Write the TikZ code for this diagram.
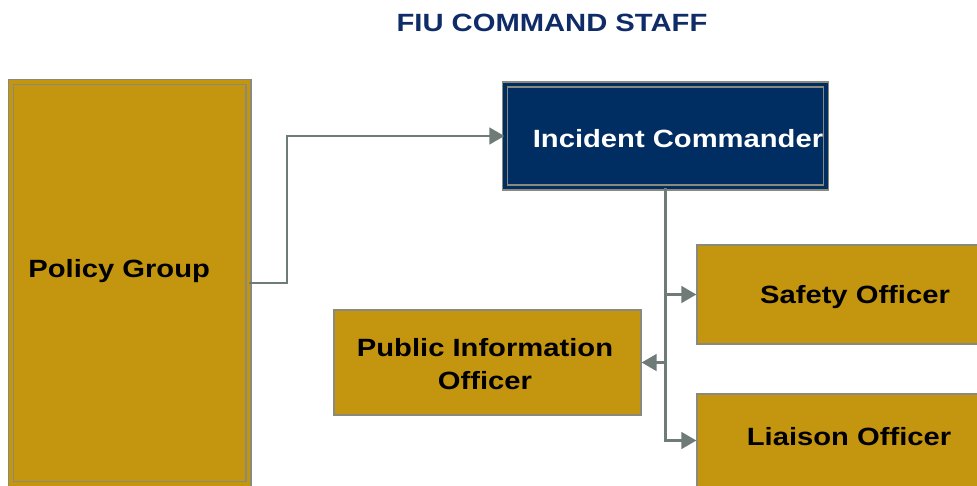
\documentclass[tikz,border=0pt]{standalone}
\usepackage{xcolor}
\usepackage{fontspec}
\setmainfont{Liberation Sans}[FakeStretch=1.17]
\usepackage{tikz}
\usetikzlibrary{arrows.meta}

\definecolor{fiugold}{HTML}{C4950E}
\definecolor{fiunavy}{HTML}{002D62}
\definecolor{titlenavy}{HTML}{0F2C68}
\definecolor{boxedge}{HTML}{8A8A7C}
\definecolor{linkgray}{HTML}{6F7B77}

\begin{document}
\begin{tikzpicture}[x=0.02cm, y=-0.02cm, >={Triangle[length=8.5pt,width=9.5pt]},
                    every node/.style={font=\bfseries\fontsize{14.2}{18.7}\selectfont},
                    goldbox/.style={draw=boxedge, line width=0.8pt, fill=fiugold, inner sep=0pt},
                    boxtext/.style={inner sep=0pt, text height=10.2pt, text depth=0pt},
                    link/.style={draw=linkgray, line width=1.4pt, ->}]
                    \clip (0,0) rectangle (977,485);

                    \node[text=titlenavy, boxtext] (title) at (552,23) {FIU COMMAND STAFF};

                    % boxes
                    \node[goldbox, double=fiugold, double distance=2.2pt, minimum width=4.75cm, minimum height=8.04cm] (policy) at (129.75,283) {};
                    \node[draw=boxedge, line width=0.8pt, fill=fiunavy, double=fiunavy, double distance=2pt, minimum width=6.42cm, minimum height=2.06cm, inner sep=0pt] (commander) at (665.5,136) {};
                    \node[goldbox, minimum width=6.06cm, minimum height=1.98cm] (safety) at (848.5,294.5) {};
                    \node[goldbox, minimum width=6.14cm, minimum height=2.1cm] (pio) at (487.5,362.5) {};
                    \node[goldbox, minimum width=6.06cm, minimum height=1.86cm] (liaison) at (848.5,440.5) {};

                    % texts
                    \node[boxtext, anchor=west] (policytext) at (28,269) {Policy Group};
                    \node[boxtext, text=white] (commandertext) at (678,138.5) {Incident Commander};
                    \node[boxtext] (safetytext) at (855,295) {Safety Officer};
                    \node[inner sep=0pt, align=center] (piotext) at (485,364) {Public Information\\Officer};
                    \node[boxtext] (liaisontext) at (849,437) {Liaison Officer};

                    % connectors
                    \draw[link] (policy.east) -- ++(38,0) |- (commander.west);
                    \draw[link] (commander.south) |- (safety.west);
                    \draw[link] (commander.south) |- (pio.east);
                    \draw[link] (commander.south) |- (liaison.west);
                \end{tikzpicture}
\end{document}
